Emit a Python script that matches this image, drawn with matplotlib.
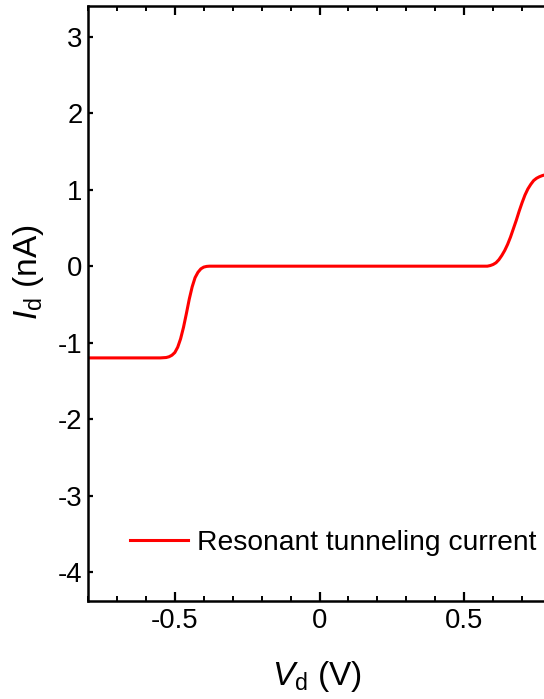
import matplotlib
matplotlib.use('Agg')
import matplotlib.pyplot as plt
from matplotlib.ticker import MultipleLocator

plt.rcParams['font.family'] = ['Liberation Sans', 'DejaVu Sans']
plt.rcParams['mathtext.fontset'] = 'custom'
plt.rcParams['mathtext.rm'] = 'Liberation Sans'
plt.rcParams['mathtext.it'] = 'Liberation Sans:italic'

# points
vd = [-0.80, -0.70, -0.60, -0.55, -0.53, -0.52, -0.51, -0.50, -0.49, -0.48,
      -0.47, -0.46, -0.45, -0.44, -0.43, -0.42, -0.41, -0.40, -0.39, -0.38,
      -0.30, 0.0, 0.30, 0.50, 0.56, 0.58, 0.59, 0.60, 0.61, 0.62, 0.63,
      0.64, 0.65, 0.66, 0.67, 0.68, 0.69, 0.70, 0.71, 0.72, 0.73, 0.74,
      0.75, 0.76, 0.77, 0.78, 0.80]
i_d = [-1.20, -1.20, -1.20, -1.20, -1.195, -1.185, -1.165, -1.13, -1.06, -0.95,
       -0.80, -0.62, -0.43, -0.27, -0.15, -0.08, -0.035, -0.012, -0.003, 0.0,
       0.0, 0.0, 0.0, 0.0, 0.0, 0.0, 0.008, 0.022, 0.045, 0.085, 0.14,
       0.205, 0.285, 0.38, 0.49, 0.60, 0.72, 0.83, 0.93, 1.01, 1.07, 1.12,
       1.15, 1.17, 1.185, 1.195, 1.20]

fig = plt.figure(figsize=(5.44, 6.99), dpi=100)
ax = fig.add_axes([88/544, 1-601/699, 463/544, 595.5/699])

ax.plot(vd, i_d, color='#ff0000', lw=2.2, solid_joinstyle='round',
        label='Resonant tunneling current')

ax.set_xlim(-0.8, 0.8)
ax.set_ylim(-4.38, 3.41)
ax.xaxis.set_minor_locator(MultipleLocator(0.1))
ax.set_xticks([-0.5, 0, 0.5])
ax.set_xticklabels(['-0.5', '0', '0.5'])
ax.set_yticks(range(-4, 4))
ax.set_yticklabels([str(v) for v in range(-4, 4)])

for s in ax.spines.values():
    s.set_linewidth(1.8)
ax.tick_params(axis='x', which='major', direction='in', length=6.5, width=1.6,
               top=True, labelsize=19.8, pad=5)
ax.tick_params(axis='x', which='minor', direction='in', length=3.3, width=1.4, top=True)
ax.tick_params(axis='y', which='major', direction='in', length=3.8, width=1.6,
               right=True, labelsize=19.8, pad=4)

fig.text(317/544, 1-676/699, r'$\mathit{V}_\mathrm{d}$ (V)', fontsize=24,
         ha='center', va='center')
fig.text(29/544, 1-272/699, r'$\mathit{I}_\mathrm{d}$ (nA)', fontsize=24,
         ha='center', va='center', rotation=90)

ax.legend(loc='center left', bbox_to_anchor=(130/544, 1-543/699),
          bbox_transform=fig.transFigure, frameon=False, fontsize=20.3,
          handlelength=2.05, handletextpad=0.32, borderpad=0, borderaxespad=0)

fig.savefig('out.png', dpi=100)
